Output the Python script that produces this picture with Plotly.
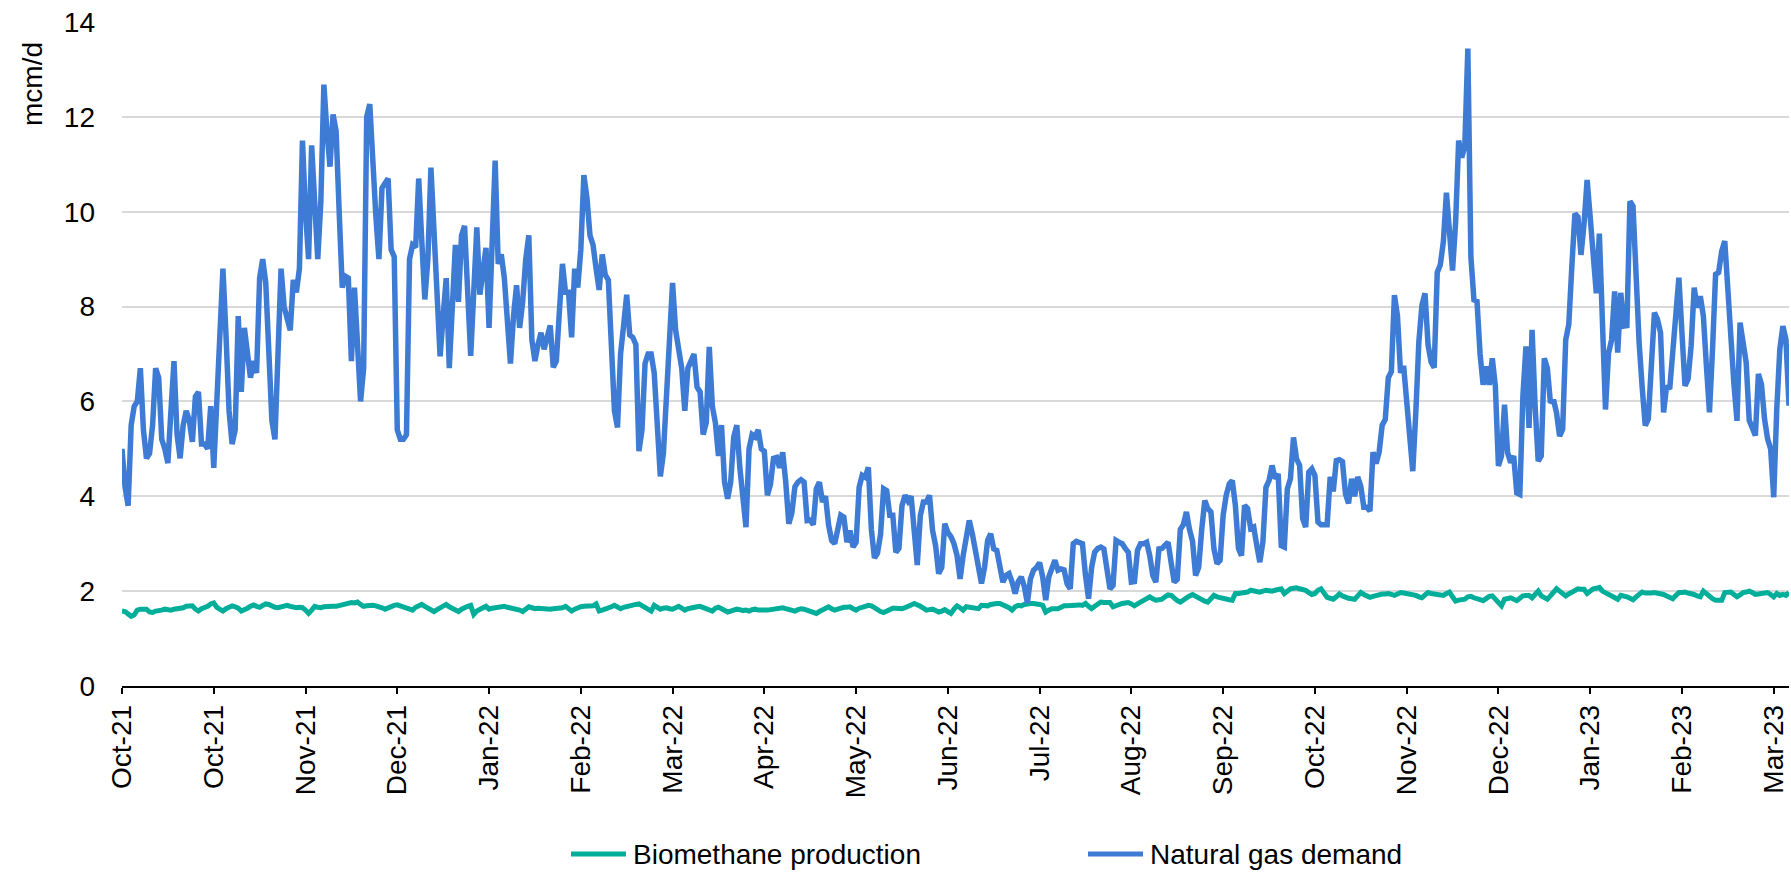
import pandas as pd
import plotly.graph_objects as go

# Daily series, 1 Oct 2021 onwards (mcm/d)
start_date = "2021-10-01"

biomethane = [
    1.58, 1.57, 1.52, 1.47, 1.50, 1.60, 1.62, 1.63, 1.62, 1.56,
    1.55, 1.58, 1.58, 1.60, 1.62, 1.60, 1.60, 1.62, 1.63, 1.63,
    1.65, 1.68, 1.69, 1.69, 1.62, 1.58, 1.63, 1.65, 1.68, 1.73,
    1.75, 1.66, 1.62, 1.58, 1.63, 1.66, 1.69, 1.67, 1.64, 1.58,
    1.60, 1.64, 1.68, 1.71, 1.68, 1.66, 1.70, 1.73, 1.72, 1.68,
    1.66, 1.65, 1.67, 1.69, 1.70, 1.68, 1.66, 1.65, 1.66, 1.65,
    1.60, 1.53, 1.60, 1.68, 1.66, 1.65, 1.67, 1.68, 1.69, 1.68,
    1.68, 1.70, 1.71, 1.72, 1.74, 1.76, 1.75, 1.77, 1.72, 1.68,
    1.69, 1.70, 1.70, 1.69, 1.68, 1.65, 1.62, 1.65, 1.68, 1.70,
    1.71, 1.69, 1.67, 1.65, 1.62, 1.60, 1.66, 1.70, 1.72, 1.68,
    1.65, 1.61, 1.57, 1.61, 1.65, 1.69, 1.72, 1.67, 1.63, 1.60,
    1.57, 1.62, 1.66, 1.68, 1.70, 1.51, 1.58, 1.63, 1.65, 1.68,
    1.62, 1.64, 1.65, 1.66, 1.67, 1.68, 1.66, 1.65, 1.63, 1.62,
    1.60, 1.57, 1.62, 1.67, 1.65, 1.63, 1.64, 1.63, 1.62, 1.62,
    1.62, 1.63, 1.63, 1.64, 1.65, 1.68, 1.63, 1.58, 1.62, 1.65,
    1.67, 1.68, 1.68, 1.69, 1.69, 1.73, 1.58, 1.60, 1.62, 1.63,
    1.67, 1.70, 1.66, 1.63, 1.66, 1.68, 1.69, 1.70, 1.72, 1.73,
    1.69, 1.65, 1.61, 1.58, 1.70, 1.66, 1.62, 1.64, 1.65, 1.63,
    1.62, 1.65, 1.68, 1.64, 1.60, 1.63, 1.65, 1.66, 1.67, 1.68,
    1.65, 1.62, 1.60, 1.58, 1.64, 1.66, 1.63, 1.59, 1.56, 1.58,
    1.60, 1.62, 1.61, 1.59, 1.60, 1.58, 1.61, 1.62, 1.60, 1.61,
    1.60, 1.60, 1.61, 1.62, 1.63, 1.64, 1.65, 1.63, 1.61, 1.59,
    1.58, 1.61, 1.63, 1.62, 1.60, 1.57, 1.55, 1.53, 1.57, 1.61,
    1.64, 1.67, 1.63, 1.60, 1.62, 1.65, 1.66, 1.66, 1.67, 1.63,
    1.60, 1.64, 1.67, 1.68, 1.70, 1.69, 1.65, 1.60, 1.57, 1.55,
    1.59, 1.63, 1.64, 1.64, 1.63, 1.63, 1.65, 1.67, 1.71, 1.74,
    1.72, 1.68, 1.64, 1.60, 1.61, 1.62, 1.59, 1.56, 1.58, 1.61,
    1.57, 1.53, 1.62, 1.69, 1.65, 1.60, 1.67, 1.66, 1.67, 1.65,
    1.63, 1.70, 1.70, 1.69, 1.72, 1.74, 1.74, 1.74, 1.71, 1.69,
    1.65, 1.60, 1.67, 1.70, 1.69, 1.72, 1.74, 1.74, 1.74, 1.74,
    1.72, 1.70, 1.56, 1.60, 1.63, 1.63, 1.63, 1.66, 1.69, 1.69,
    1.70, 1.71, 1.72, 1.71, 1.70, 1.74, 1.68, 1.63, 1.68, 1.72,
    1.77, 1.76, 1.75, 1.76, 1.67, 1.70, 1.72, 1.74, 1.75, 1.76,
    1.73, 1.69, 1.73, 1.77, 1.83, 1.85, 1.88, 1.84, 1.81, 1.82,
    1.83, 1.88, 1.92, 1.91, 1.85, 1.80, 1.77, 1.82, 1.86, 1.90,
    1.93, 1.89, 1.84, 1.81, 1.79, 1.77, 1.85, 1.91, 1.88, 1.86,
    1.85, 1.84, 1.82, 1.81, 1.95, 1.95, 1.96, 1.97, 1.98, 2.02,
    2.00, 1.99, 1.98, 2.00, 2.02, 2.01, 2.00, 2.02, 2.04, 2.05,
    1.95, 2.00, 2.05, 2.06, 2.07, 2.05, 2.04, 2.02, 1.97, 1.93,
    1.95, 2.02, 2.05, 1.96, 1.87, 1.85, 1.83, 1.88, 1.94, 1.90,
    1.86, 1.85, 1.84, 1.83, 1.90, 1.97, 1.93, 1.89, 1.87, 1.89,
    1.91, 1.92, 1.94, 1.94, 1.95, 1.93, 1.91, 1.94, 1.97, 1.96,
    1.95, 1.95, 1.93, 1.91, 1.88, 1.86, 1.92, 1.97, 1.95, 1.94,
    1.93, 1.92, 1.91, 1.95, 1.98, 1.88, 1.79, 1.81, 1.83, 1.83,
    1.88, 1.89, 1.86, 1.83, 1.82, 1.80, 1.85, 1.89, 1.90, 1.83,
    1.76, 1.69, 1.83, 1.85, 1.86, 1.83, 1.80, 1.85, 1.90, 1.91,
    1.91, 1.86, 1.93, 2.00, 1.90, 1.86, 1.83, 1.90, 1.98, 2.05,
    2.00, 1.96, 1.90, 1.94, 1.98, 2.02, 2.05, 2.04, 2.04, 1.95,
    2.00, 2.05, 2.06, 2.08, 2.00, 1.96, 1.93, 1.91, 1.87, 1.83,
    1.91, 1.90, 1.88, 1.85, 1.82, 1.88, 1.93, 1.98, 1.96, 1.95,
    1.96, 1.97, 1.96, 1.95, 1.93, 1.90, 1.87, 1.84, 1.91, 1.97,
    1.97, 1.98, 1.96, 1.95, 1.93, 1.90, 1.88, 2.00, 1.94, 1.88,
    1.84, 1.81, 1.80, 1.81, 1.97, 1.97, 1.98, 1.93, 1.88, 1.92,
    1.97, 1.98, 2.00, 1.97, 1.93, 1.94, 1.95, 1.96, 1.97, 1.93,
    1.88, 1.95, 1.91, 1.93, 1.91, 1.97,
]

demand = [
    5.0, 4.2, 3.8, 5.5, 5.9, 6.0, 6.7, 5.4, 4.8, 4.9,
    5.5, 6.7, 6.5, 5.2, 5.0, 4.7, 5.8, 6.85, 5.3, 4.8,
    5.5, 5.8, 5.6, 5.15, 6.1, 6.2, 5.1, 5.1, 5.0, 5.9,
    4.6, 6.2, 7.8, 8.8, 7.4, 5.8, 5.1, 5.4, 7.8, 6.2,
    7.55, 7.0, 6.5, 6.85, 6.6, 8.6, 9.0, 8.5, 6.8, 5.6,
    5.2, 7.5, 8.8, 8.0, 7.7, 7.5, 8.56, 8.3, 8.8, 11.5,
    10.0, 9.0, 11.4, 10.0, 9.0, 10.2, 12.68, 11.7, 10.95, 12.05,
    11.7, 10.0, 8.4, 8.64, 8.6, 6.85, 8.4, 7.2, 6.0, 6.7,
    12.0, 12.27, 10.9, 9.9, 9.0, 10.5, 10.6, 10.7, 9.2, 9.05,
    5.4, 5.2, 5.2, 5.3, 9.0, 9.3, 9.25, 10.7, 9.4, 8.15,
    9.0, 10.93, 9.6, 8.0, 6.95, 7.8, 8.6, 6.7, 8.0, 9.3,
    8.1, 9.5, 9.7, 8.3, 6.96, 8.3, 9.67, 8.25, 8.8, 9.24,
    7.55, 9.3, 11.08, 8.9, 9.1, 8.6, 7.7, 6.8, 7.8, 8.45,
    7.55, 8.1, 9.0, 9.5, 7.3, 6.85, 7.2, 7.45, 7.1, 7.4,
    7.6, 6.72, 6.85, 7.9, 8.9, 8.3, 8.3, 7.35, 8.8, 8.4,
    9.2, 10.77, 10.3, 9.5, 9.3, 8.8, 8.35, 9.1, 8.67, 8.56,
    7.0, 5.8, 5.45, 7.0, 7.6, 8.25, 7.4, 7.35, 7.2, 4.95,
    5.4, 6.8, 7.0, 7.0, 6.6, 5.2, 4.42, 4.9, 6.0, 7.4,
    8.5, 7.5, 7.0, 6.7, 5.8, 6.7, 6.85, 7.0, 6.3, 6.2,
    5.3, 5.55, 7.15, 5.9, 5.55, 4.85, 5.5, 4.3, 3.95, 4.3,
    5.25, 5.5, 4.6, 3.9, 3.35, 5.0, 5.3, 5.25, 5.4, 5.0,
    4.95, 4.02, 4.25, 4.8, 4.82, 4.6, 4.93, 4.3, 3.42, 3.65,
    4.2, 4.3, 4.35, 4.3, 3.49, 3.5, 3.4, 4.16, 4.3, 3.88,
    4.0, 3.4, 3.07, 3.0, 3.3, 3.6, 3.56, 3.03, 3.28, 2.93,
    3.03, 4.19, 4.44, 4.4, 4.61, 3.3, 2.7, 2.8, 3.2, 4.16,
    4.12, 3.6, 3.6, 2.82, 2.9, 3.8, 4.02, 3.9, 4.0, 3.3,
    2.55, 3.59, 3.88, 3.88, 4.02, 3.28, 2.96, 2.37, 2.5, 3.42,
    3.24, 3.15, 3.0, 2.75, 2.26, 2.75, 3.2, 3.49, 3.21, 2.89,
    2.5, 2.16, 2.5, 3.07, 3.21, 2.89, 2.86, 2.5, 2.19, 2.33,
    2.37, 2.19, 1.95, 2.2, 2.3, 2.1, 1.75, 2.26, 2.44, 2.5,
    2.6, 2.3, 1.81, 2.3, 2.5, 2.65, 2.44, 2.47, 2.45, 2.15,
    2.05, 3.0, 3.05, 3.03, 3.0, 2.33, 1.84, 2.5, 2.82, 2.9,
    2.93, 2.89, 2.47, 2.05, 2.12, 3.07, 3.03, 3.0, 2.9, 2.82,
    2.19, 2.2, 2.86, 3.0, 3.0, 3.03, 2.75, 2.33, 2.19, 2.89,
    2.9, 2.95, 3.03, 2.6, 2.19, 2.25, 3.3, 3.4, 3.67, 3.3,
    3.05, 2.33, 2.5, 3.3, 3.91, 3.74, 3.67, 2.89, 2.58, 2.65,
    3.6, 4.02, 4.26, 4.33, 3.81, 2.9, 2.75, 3.81, 3.74, 3.32,
    3.35, 2.96, 2.61, 3.04, 4.19, 4.33, 4.65, 4.37, 4.47, 2.96,
    2.93, 4.16, 4.37, 5.24, 4.79, 4.65, 3.53, 3.35, 4.51, 4.58,
    4.44, 3.46, 3.4, 3.4, 3.4, 4.41, 4.1, 4.75, 4.77, 4.73,
    4.05, 3.85, 4.37, 4.0, 4.41, 4.21, 3.77, 3.77, 3.69, 4.93,
    4.69, 4.93, 5.5, 5.62, 6.5, 6.63, 8.24, 7.8, 6.6, 6.75,
    6.02, 5.26, 4.53, 5.78, 7.27, 8.03, 8.28, 7.19, 6.83, 6.71,
    8.72, 8.88, 9.37, 10.4, 9.53, 8.76, 9.77, 11.5, 11.14, 11.38,
    13.44, 9.05, 8.14, 8.11, 7.0, 6.35, 6.74, 6.35, 6.91, 6.32,
    4.64, 4.85, 5.93, 4.92, 4.71, 4.85, 4.07, 4.04, 6.11, 7.16,
    5.44, 7.51, 5.9, 4.74, 4.85, 6.91, 6.7, 5.97, 6.04, 5.76,
    5.27, 5.41, 7.3, 7.62, 8.84, 9.96, 9.89, 9.09, 9.75, 10.67,
    9.89, 8.98, 8.28, 9.54, 7.2, 5.83, 7.02, 7.3, 8.32, 7.03,
    8.29, 7.59, 7.6, 10.22, 10.12, 8.5, 7.24, 6.3, 5.49, 5.63,
    7.03, 7.87, 7.73, 7.45, 5.77, 6.33, 6.26, 6.96, 7.66, 8.61,
    7.45, 6.33, 6.47, 7.17, 8.4, 7.98, 8.22, 7.8, 6.75, 5.77,
    7.1, 8.68, 8.72, 9.17, 9.38, 8.22, 7.03, 6.36, 5.59, 7.66,
    7.24, 6.82, 5.6, 5.42, 5.28, 6.58, 6.36, 5.63, 5.21, 5.0,
    3.98, 5.84, 7.1, 7.59, 7.31, 5.91,
]

# Category labels, one every 30 days
tick_step = 30
tick_labels = [
    "Oct-21", "Oct-21", "Nov-21", "Dec-21", "Jan-22", "Feb-22", "Mar-22",
    "Apr-22", "May-22", "Jun-22", "Jul-22", "Aug-22", "Sep-22", "Oct-22",
    "Nov-22", "Dec-22", "Jan-23", "Feb-23", "Mar-23",
]

series_names = ["Biomethane production", "Natural gas demand"]
series_colors = ["#00AE9A", "#3E7BD5"]

dates = pd.date_range(start_date, periods=len(demand), freq="D")
assert len(biomethane) == len(dates)
tick_vals = list(dates[::tick_step])[: len(tick_labels)]

FONT = "Liberation Sans, Arial, sans-serif"
TEXT = "#000000"

fig = go.Figure()
fig.add_trace(go.Scatter(
    x=dates, y=biomethane, mode="lines", name=series_names[0],
    line=dict(color=series_colors[0], width=5), showlegend=False,
))
fig.add_trace(go.Scatter(
    x=dates, y=demand, mode="lines", name=series_names[1],
    line=dict(color=series_colors[1], width=5.5), showlegend=False,
))

W, H = 1791, 874
L, R, T, B = 122, 2, 22, 188
pw, ph = W - L - R, H - T - B


def px_x(px):
    return (px - L) / pw


def px_y(py):
    return (H - B - py) / ph


fig.update_layout(
    width=W, height=H,
    margin=dict(l=L, r=R, t=T, b=B, pad=0),
    paper_bgcolor="white", plot_bgcolor="white",
    font=dict(family=FONT, size=28, color=TEXT),
    showlegend=False,
    xaxis=dict(
        range=[dates[0], dates[-1]],
        tickmode="array", tickvals=tick_vals, ticktext=tick_labels,
        tickangle=-90, tickfont=dict(size=28, color=TEXT),
        showgrid=False, zeroline=False,
        showline=True, linecolor="#000000", linewidth=1.5,
        ticks="outside", ticklen=6, tickwidth=1.5, tickcolor="#000000",
    ),
    yaxis=dict(
        range=[0, 14], dtick=2, tick0=0,
        tickfont=dict(size=28, color=TEXT),
        showgrid=True, gridcolor="#D9D9D9", gridwidth=1.5,
        zeroline=False, showline=False, ticks="",
        ticklabelstandoff=26,
    ),
)

# Axis unit label, top-left, rotated
fig.add_annotation(
    text="mcm/d", xref="paper", yref="paper",
    x=px_x(32), y=px_y(84), textangle=-90, showarrow=False,
    xanchor="center", yanchor="middle",
    font=dict(family=FONT, size=28, color=TEXT),
)

# Legend at the bottom: line sample + label for each series
legend_y = px_y(854)
legend_items = [(571, 626, 631), (1088, 1143, 1148)]
for (x0, x1, xt), name, color in zip(legend_items, series_names, series_colors):
    fig.add_shape(
        type="line", xref="paper", yref="paper",
        x0=px_x(x0), x1=px_x(x1), y0=legend_y, y1=legend_y,
        line=dict(color=color, width=5),
    )
    fig.add_annotation(
        text=name, xref="paper", yref="paper",
        x=px_x(xt), y=legend_y, showarrow=False,
        xanchor="left", yanchor="middle",
        font=dict(family=FONT, size=28, color=TEXT),
    )

fig.write_html("out.html")
